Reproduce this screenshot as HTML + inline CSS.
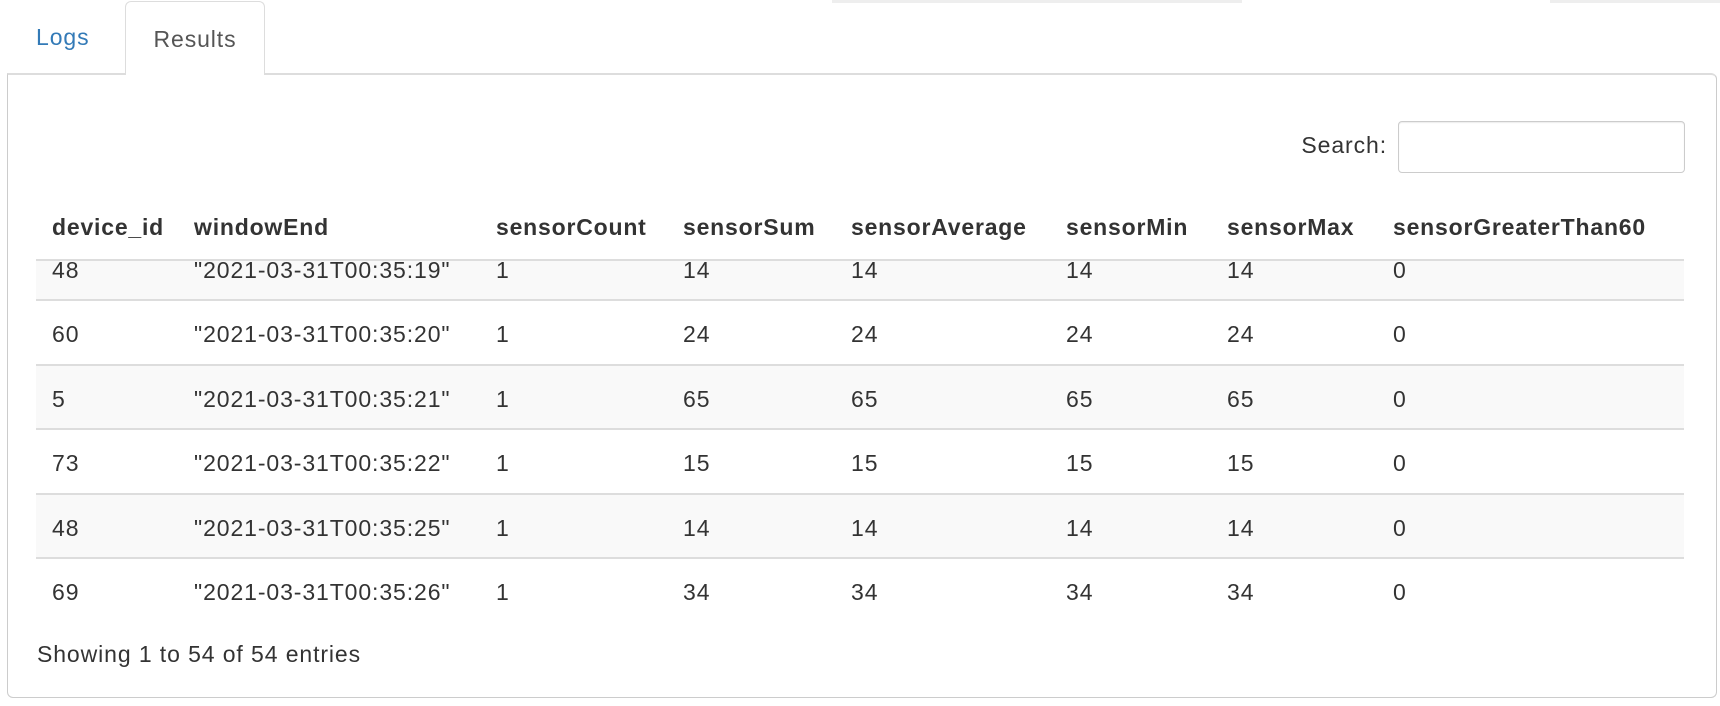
<!DOCTYPE html>
<html><head><meta charset="utf-8"><style>
*{box-sizing:border-box;margin:0;padding:0}
body{width:1720px;height:706px;background:#fff;font-family:"Liberation Sans",Arial,sans-serif;color:#333;position:relative;overflow:hidden;font-size:23px;letter-spacing:0.9px}
.abs{position:absolute}
.topbar{position:absolute;top:0;height:3px;background:#eee}
.tab-logs{left:36px;top:24px;color:#337ab7}
.tab-res{left:125px;top:1px;width:140px;height:74px;border:1px solid #ddd;border-bottom:none;border-radius:6px 6px 0 0;background:#fff;z-index:2;text-align:center;line-height:74px;color:#555}
.panel{left:7px;top:73px;width:1710px;height:625px;border:1px solid #ccc;border-top:2px solid #ddd;border-radius:0 6px 6px 6px}
.search-label{left:1280px;top:132px;width:107px;text-align:right}
.search{left:1398px;top:121px;width:287px;height:52px;border:1px solid #ccc;border-radius:4px;box-shadow:inset 0 1px 1px rgba(0,0,0,.08)}
.th{top:214px;font-weight:bold;color:#333;letter-spacing:0.8px}
.hline{left:36px;width:1648px;top:259px;height:2px;background:#ddd}
.body{left:36px;top:261px;width:1648px;height:364px;overflow:hidden}
.row{position:absolute;left:0;width:1648px;height:64px;border-top:2px solid #ddd}
.row.g{background:#f9f9f9}
.row span{position:absolute;top:20px}
.info{left:37px;top:641px}
</style></head><body>
<div class="topbar" style="left:832px;width:410px"></div>
<div class="topbar" style="left:1550px;width:170px"></div>
<div class="abs tab-logs">Logs</div>
<div class="abs tab-res">Results</div>
<div class="abs panel"></div>
<div class="abs search-label">Search:</div>
<div class="abs search"></div>
<div class="abs th" style="left:52px">device_id</div>
<div class="abs th" style="left:194px">windowEnd</div>
<div class="abs th" style="left:496px">sensorCount</div>
<div class="abs th" style="left:683px">sensorSum</div>
<div class="abs th" style="left:851px">sensorAverage</div>
<div class="abs th" style="left:1066px">sensorMin</div>
<div class="abs th" style="left:1227px">sensorMax</div>
<div class="abs th" style="left:1393px">sensorGreaterThan60</div>
<div class="abs hline"></div>
<div class="abs body" id="tb"></div>
<div class="abs info">Showing 1 to 54 of 54 entries</div>
<script>
const ids=["48","60","5","73","48","69"];
const ends=['"2021-03-31T00:35:19"','"2021-03-31T00:35:20"','"2021-03-31T00:35:21"','"2021-03-31T00:35:22"','"2021-03-31T00:35:25"','"2021-03-31T00:35:26"'];
const counts=[1,1,1,1,1,1];
const vals=[14,24,65,15,14,34];
const gt60=[0,0,0,0,0,0];
const xs=[16,158,460,647,815,1030,1191,1357];
const tb=document.getElementById('tb');
for(let i=0;i<ids.length;i++){
  const r=document.createElement('div');
  r.className='row'+(i%2===0?' g':'');
  r.style.top=(i*64.4-26)+'px';
  if(i===0) r.style.borderTop='none';
  
  
  const cells=[ids[i],ends[i],counts[i],vals[i],vals[i],vals[i],vals[i],gt60[i]];
  cells.forEach((c,j)=>{
    const s=document.createElement('span');
    s.style.left=xs[j]+'px';
    if(i===0) s.style.top='22px';
    s.textContent=c;
    
    
    r.appendChild(s);
  });
  tb.appendChild(r);
}
</script>
</body></html>
